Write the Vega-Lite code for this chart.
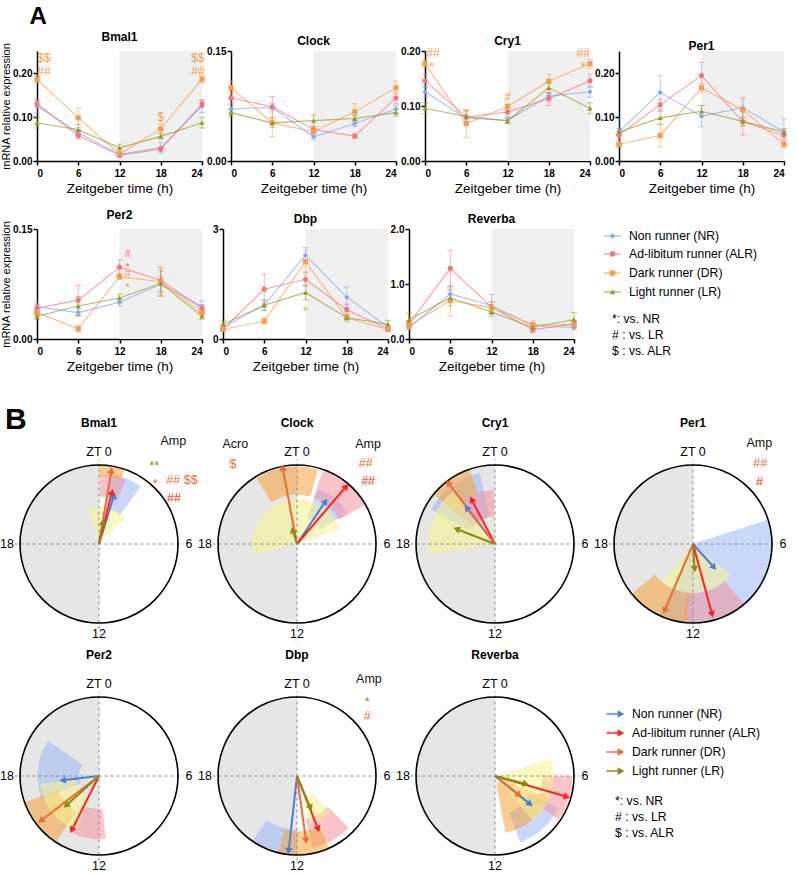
{
"$schema":"https://vega.github.io/schema/vega-lite/v6.json",
"padding":{"left":0,"top":5,"right":5,"bottom":0},
"background":"white",
"config":{
 "font":"Liberation Sans",
 "view":{"stroke":null},
 "axis":{"grid":false,"labelOverlap":false,"domainColor":"#000","domainWidth":1.5,"tickColor":"#000","tickWidth":1.5,"tickSize":4,"labelFontWeight":"bold","labelFontSize":10,"labelColor":"#000","titleFontWeight":"normal","titleColor":"#000","titleFontSize":13.5},
 "axisY":{"titleFontSize":11,"labelPadding":1,"titlePadding":1,"labelOverlap":false,"labelFlush":false},
 "axisX":{"labelPadding":3,"titlePadding":3},
 "title":{"fontSize":12,"fontWeight":"bold","color":"#000","offset":-2},
 "text":{"font":"Liberation Sans","color":"#000"}
},
"datasets":{
 "night":[{"s":12,"e":24}],
 "dark":[{"from":12,"to":24,"r":1}],
 "ring":[{"from":0,"to":24,"r":1}],
 "cross":[{"xa":-1.07,"xb":1.07,"ya":0,"yb":0},{"xa":0,"xb":0,"ya":-1.07,"yb":1.07}],
 "hours":[{"lab":"ZT 0","x":0,"y":1.165},{"lab":"6","x":1.14,"y":0},{"lab":"12","x":0,"y":-1.14},{"lab":"18","x":-1.165,"y":0}],
 "legA":[{"g":"NR","lab":"Non runner (NR)","p":0.38},{"g":"ALR","lab":"Ad-libitum runner (ALR)","p":1.35},{"g":"DR","lab":"Dark runner (DR)","p":2.37},{"g":"LR","lab":"Light runner (LR)","p":3.39}],
 "noteA":[{"lab":"*: vs. NR","p":4.85},{"lab":"# : vs. LR","p":5.71},{"lab":"$ : vs. ALR","p":6.57}],
 "legB":[{"g":"NR","lab":"Non runner (NR)","p":0},{"g":"ALR","lab":"Ad-libitum runner (ALR)","p":1},{"g":"DR","lab":"Dark runner (DR)","p":2},{"g":"LR","lab":"Light runner (LR)","p":3}],
 "noteB":[{"lab":"*: vs. NR","p":4.58},{"lab":"# : vs. LR","p":5.42},{"lab":"$ : vs. ALR","p":6.26}],
 "expr":[
  {"k":"Bmal1","g":"NR","t":0,"m":0.125,"lo":0.110,"hi":0.140},{"k":"Bmal1","g":"NR","t":6,"m":0.065,"lo":0.059,"hi":0.071},{"k":"Bmal1","g":"NR","t":12,"m":0.015,"lo":0.012,"hi":0.018},{"k":"Bmal1","g":"NR","t":18,"m":0.030,"lo":0.018,"hi":0.042},{"k":"Bmal1","g":"NR","t":24,"m":0.125,"lo":0.110,"hi":0.140},
  {"k":"Bmal1","g":"ALR","t":0,"m":0.130,"lo":0.122,"hi":0.138},{"k":"Bmal1","g":"ALR","t":6,"m":0.058,"lo":0.050,"hi":0.066},{"k":"Bmal1","g":"ALR","t":12,"m":0.013,"lo":0.010,"hi":0.016},{"k":"Bmal1","g":"ALR","t":18,"m":0.027,"lo":0.022,"hi":0.032},{"k":"Bmal1","g":"ALR","t":24,"m":0.130,"lo":0.122,"hi":0.138},
  {"k":"Bmal1","g":"DR","t":0,"m":0.186,"lo":0.178,"hi":0.194},{"k":"Bmal1","g":"DR","t":6,"m":0.098,"lo":0.076,"hi":0.120},{"k":"Bmal1","g":"DR","t":12,"m":0.016,"lo":0.013,"hi":0.019},{"k":"Bmal1","g":"DR","t":18,"m":0.073,"lo":0.063,"hi":0.083},{"k":"Bmal1","g":"DR","t":24,"m":0.186,"lo":0.178,"hi":0.194},
  {"k":"Bmal1","g":"LR","t":0,"m":0.087,"lo":0.075,"hi":0.099},{"k":"Bmal1","g":"LR","t":6,"m":0.071,"lo":0.059,"hi":0.083},{"k":"Bmal1","g":"LR","t":12,"m":0.030,"lo":0.022,"hi":0.038},{"k":"Bmal1","g":"LR","t":18,"m":0.056,"lo":0.050,"hi":0.062},{"k":"Bmal1","g":"LR","t":24,"m":0.087,"lo":0.075,"hi":0.099},
  {"k":"Clock","g":"NR","t":0,"m":0.071,"lo":0.066,"hi":0.076},{"k":"Clock","g":"NR","t":6,"m":0.073,"lo":0.067,"hi":0.079},{"k":"Clock","g":"NR","t":12,"m":0.033,"lo":0.029,"hi":0.037},{"k":"Clock","g":"NR","t":18,"m":0.051,"lo":0.047,"hi":0.055},{"k":"Clock","g":"NR","t":24,"m":0.071,"lo":0.066,"hi":0.076},
  {"k":"Clock","g":"ALR","t":0,"m":0.086,"lo":0.078,"hi":0.094},{"k":"Clock","g":"ALR","t":6,"m":0.074,"lo":0.060,"hi":0.088},{"k":"Clock","g":"ALR","t":12,"m":0.043,"lo":0.039,"hi":0.047},{"k":"Clock","g":"ALR","t":18,"m":0.034,"lo":0.031,"hi":0.037},{"k":"Clock","g":"ALR","t":24,"m":0.086,"lo":0.078,"hi":0.094},
  {"k":"Clock","g":"DR","t":0,"m":0.100,"lo":0.091,"hi":0.109},{"k":"Clock","g":"DR","t":6,"m":0.052,"lo":0.033,"hi":0.071},{"k":"Clock","g":"DR","t":12,"m":0.040,"lo":0.037,"hi":0.043},{"k":"Clock","g":"DR","t":18,"m":0.067,"lo":0.056,"hi":0.078},{"k":"Clock","g":"DR","t":24,"m":0.100,"lo":0.091,"hi":0.109},
  {"k":"Clock","g":"LR","t":0,"m":0.066,"lo":0.061,"hi":0.071},{"k":"Clock","g":"LR","t":6,"m":0.052,"lo":0.046,"hi":0.058},{"k":"Clock","g":"LR","t":12,"m":0.055,"lo":0.047,"hi":0.063},{"k":"Clock","g":"LR","t":18,"m":0.058,"lo":0.054,"hi":0.062},{"k":"Clock","g":"LR","t":24,"m":0.066,"lo":0.061,"hi":0.071},
  {"k":"Cry1","g":"NR","t":0,"m":0.126,"lo":0.116,"hi":0.136},{"k":"Cry1","g":"NR","t":6,"m":0.078,"lo":0.072,"hi":0.084},{"k":"Cry1","g":"NR","t":12,"m":0.074,"lo":0.069,"hi":0.079},{"k":"Cry1","g":"NR","t":18,"m":0.118,"lo":0.112,"hi":0.124},{"k":"Cry1","g":"NR","t":24,"m":0.126,"lo":0.116,"hi":0.136},
  {"k":"Cry1","g":"ALR","t":0,"m":0.146,"lo":0.134,"hi":0.158},{"k":"Cry1","g":"ALR","t":6,"m":0.080,"lo":0.068,"hi":0.092},{"k":"Cry1","g":"ALR","t":12,"m":0.089,"lo":0.081,"hi":0.097},{"k":"Cry1","g":"ALR","t":18,"m":0.113,"lo":0.101,"hi":0.125},{"k":"Cry1","g":"ALR","t":24,"m":0.146,"lo":0.134,"hi":0.158},
  {"k":"Cry1","g":"DR","t":0,"m":0.177,"lo":0.169,"hi":0.185},{"k":"Cry1","g":"DR","t":6,"m":0.068,"lo":0.043,"hi":0.093},{"k":"Cry1","g":"DR","t":12,"m":0.099,"lo":0.094,"hi":0.104},{"k":"Cry1","g":"DR","t":18,"m":0.145,"lo":0.132,"hi":0.158},{"k":"Cry1","g":"DR","t":24,"m":0.177,"lo":0.169,"hi":0.185},
  {"k":"Cry1","g":"LR","t":0,"m":0.096,"lo":0.086,"hi":0.106},{"k":"Cry1","g":"LR","t":6,"m":0.081,"lo":0.071,"hi":0.091},{"k":"Cry1","g":"LR","t":12,"m":0.073,"lo":0.068,"hi":0.078},{"k":"Cry1","g":"LR","t":18,"m":0.133,"lo":0.123,"hi":0.143},{"k":"Cry1","g":"LR","t":24,"m":0.096,"lo":0.086,"hi":0.106},
  {"k":"Per1","g":"NR","t":0,"m":0.066,"lo":0.036,"hi":0.096},{"k":"Per1","g":"NR","t":6,"m":0.156,"lo":0.118,"hi":0.194},{"k":"Per1","g":"NR","t":12,"m":0.102,"lo":0.078,"hi":0.126},{"k":"Per1","g":"NR","t":18,"m":0.121,"lo":0.097,"hi":0.145},{"k":"Per1","g":"NR","t":24,"m":0.066,"lo":0.036,"hi":0.096},
  {"k":"Per1","g":"ALR","t":0,"m":0.059,"lo":0.049,"hi":0.069},{"k":"Per1","g":"ALR","t":6,"m":0.128,"lo":0.116,"hi":0.140},{"k":"Per1","g":"ALR","t":12,"m":0.194,"lo":0.164,"hi":0.224},{"k":"Per1","g":"ALR","t":18,"m":0.089,"lo":0.059,"hi":0.119},{"k":"Per1","g":"ALR","t":24,"m":0.059,"lo":0.049,"hi":0.069},
  {"k":"Per1","g":"DR","t":0,"m":0.038,"lo":0.031,"hi":0.045},{"k":"Per1","g":"DR","t":6,"m":0.058,"lo":0.032,"hi":0.084},{"k":"Per1","g":"DR","t":12,"m":0.166,"lo":0.156,"hi":0.176},{"k":"Per1","g":"DR","t":18,"m":0.116,"lo":0.091,"hi":0.141},{"k":"Per1","g":"DR","t":24,"m":0.038,"lo":0.031,"hi":0.045},
  {"k":"Per1","g":"LR","t":0,"m":0.066,"lo":0.058,"hi":0.074},{"k":"Per1","g":"LR","t":6,"m":0.098,"lo":0.083,"hi":0.113},{"k":"Per1","g":"LR","t":12,"m":0.113,"lo":0.100,"hi":0.126},{"k":"Per1","g":"LR","t":18,"m":0.090,"lo":0.080,"hi":0.100},{"k":"Per1","g":"LR","t":24,"m":0.066,"lo":0.058,"hi":0.074},
  {"k":"Per2","g":"NR","t":0,"m":0.044,"lo":0.036,"hi":0.052},{"k":"Per2","g":"NR","t":6,"m":0.036,"lo":0.031,"hi":0.041},{"k":"Per2","g":"NR","t":12,"m":0.050,"lo":0.045,"hi":0.055},{"k":"Per2","g":"NR","t":18,"m":0.075,"lo":0.065,"hi":0.085},{"k":"Per2","g":"NR","t":24,"m":0.044,"lo":0.036,"hi":0.052},
  {"k":"Per2","g":"ALR","t":0,"m":0.042,"lo":0.037,"hi":0.047},{"k":"Per2","g":"ALR","t":6,"m":0.053,"lo":0.033,"hi":0.073},{"k":"Per2","g":"ALR","t":12,"m":0.098,"lo":0.088,"hi":0.108},{"k":"Per2","g":"ALR","t":18,"m":0.080,"lo":0.063,"hi":0.097},{"k":"Per2","g":"ALR","t":24,"m":0.042,"lo":0.037,"hi":0.047},
  {"k":"Per2","g":"DR","t":0,"m":0.036,"lo":0.032,"hi":0.040},{"k":"Per2","g":"DR","t":6,"m":0.014,"lo":0.010,"hi":0.018},{"k":"Per2","g":"DR","t":12,"m":0.085,"lo":0.081,"hi":0.089},{"k":"Per2","g":"DR","t":18,"m":0.078,"lo":0.058,"hi":0.098},{"k":"Per2","g":"DR","t":24,"m":0.036,"lo":0.032,"hi":0.040},
  {"k":"Per2","g":"LR","t":0,"m":0.031,"lo":0.027,"hi":0.035},{"k":"Per2","g":"LR","t":6,"m":0.045,"lo":0.032,"hi":0.058},{"k":"Per2","g":"LR","t":12,"m":0.056,"lo":0.051,"hi":0.061},{"k":"Per2","g":"LR","t":18,"m":0.076,"lo":0.059,"hi":0.093},{"k":"Per2","g":"LR","t":24,"m":0.031,"lo":0.027,"hi":0.035},
  {"k":"Dbp","g":"NR","t":0,"m":0.32,"lo":0.27,"hi":0.37},{"k":"Dbp","g":"NR","t":6,"m":0.92,"lo":0.80,"hi":1.04},{"k":"Dbp","g":"NR","t":12,"m":2.29,"lo":2.09,"hi":2.49},{"k":"Dbp","g":"NR","t":18,"m":1.14,"lo":0.86,"hi":1.42},{"k":"Dbp","g":"NR","t":24,"m":0.32,"lo":0.27,"hi":0.37},
  {"k":"Dbp","g":"ALR","t":0,"m":0.27,"lo":0.22,"hi":0.32},{"k":"Dbp","g":"ALR","t":6,"m":1.36,"lo":0.96,"hi":1.76},{"k":"Dbp","g":"ALR","t":12,"m":1.63,"lo":1.43,"hi":1.83},{"k":"Dbp","g":"ALR","t":18,"m":0.80,"lo":0.65,"hi":0.95},{"k":"Dbp","g":"ALR","t":24,"m":0.27,"lo":0.22,"hi":0.32},
  {"k":"Dbp","g":"DR","t":0,"m":0.26,"lo":0.21,"hi":0.31},{"k":"Dbp","g":"DR","t":6,"m":0.49,"lo":0.41,"hi":0.57},{"k":"Dbp","g":"DR","t":12,"m":2.11,"lo":1.81,"hi":2.41},{"k":"Dbp","g":"DR","t":18,"m":0.58,"lo":0.53,"hi":0.63},{"k":"Dbp","g":"DR","t":24,"m":0.26,"lo":0.21,"hi":0.31},
  {"k":"Dbp","g":"LR","t":0,"m":0.41,"lo":0.31,"hi":0.51},{"k":"Dbp","g":"LR","t":6,"m":0.92,"lo":0.77,"hi":1.07},{"k":"Dbp","g":"LR","t":12,"m":1.27,"lo":1.07,"hi":1.47},{"k":"Dbp","g":"LR","t":18,"m":0.58,"lo":0.48,"hi":0.68},{"k":"Dbp","g":"LR","t":24,"m":0.41,"lo":0.31,"hi":0.51},
  {"k":"Reverba","g":"NR","t":0,"m":0.21,"lo":0.17,"hi":0.25},{"k":"Reverba","g":"NR","t":6,"m":0.82,"lo":0.69,"hi":0.95},{"k":"Reverba","g":"NR","t":12,"m":0.61,"lo":0.41,"hi":0.81},{"k":"Reverba","g":"NR","t":18,"m":0.245,"lo":0.195,"hi":0.295},{"k":"Reverba","g":"NR","t":24,"m":0.21,"lo":0.17,"hi":0.25},
  {"k":"Reverba","g":"ALR","t":0,"m":0.275,"lo":0.215,"hi":0.335},{"k":"Reverba","g":"ALR","t":6,"m":1.285,"lo":0.955,"hi":1.615},{"k":"Reverba","g":"ALR","t":12,"m":0.58,"lo":0.48,"hi":0.68},{"k":"Reverba","g":"ALR","t":18,"m":0.17,"lo":0.12,"hi":0.22},{"k":"Reverba","g":"ALR","t":24,"m":0.27,"lo":0.21,"hi":0.33},
  {"k":"Reverba","g":"DR","t":0,"m":0.245,"lo":0.185,"hi":0.305},{"k":"Reverba","g":"DR","t":6,"m":0.70,"lo":0.42,"hi":0.98},{"k":"Reverba","g":"DR","t":12,"m":0.57,"lo":0.47,"hi":0.67},{"k":"Reverba","g":"DR","t":18,"m":0.26,"lo":0.19,"hi":0.33},{"k":"Reverba","g":"DR","t":24,"m":0.26,"lo":0.20,"hi":0.32},
  {"k":"Reverba","g":"LR","t":0,"m":0.35,"lo":0.23,"hi":0.47},{"k":"Reverba","g":"LR","t":6,"m":0.75,"lo":0.60,"hi":0.90},{"k":"Reverba","g":"LR","t":12,"m":0.49,"lo":0.45,"hi":0.53},{"k":"Reverba","g":"LR","t":18,"m":0.215,"lo":0.185,"hi":0.245},{"k":"Reverba","g":"LR","t":24,"m":0.355,"lo":0.225,"hi":0.485}
 ],
 "annA":[
  {"k":"Bmal1","g":"DR","t":1.0,"v":0.234,"s":"$$"},{"k":"Bmal1","g":"DR","t":1.0,"v":0.205,"s":"##"},
  {"k":"Bmal1","g":"DR","t":23.4,"v":0.234,"s":"$$"},{"k":"Bmal1","g":"DR","t":23.4,"v":0.205,"s":"##"},
  {"k":"Bmal1","g":"DR","t":18,"v":0.099,"s":"$"},
  {"k":"Cry1","g":"DR","t":1.2,"v":0.196,"s":"##"},{"k":"Cry1","g":"DR","t":1.0,"v":0.171,"s":"*"},
  {"k":"Cry1","g":"DR","t":23.0,"v":0.196,"s":"##"},{"k":"Cry1","g":"DR","t":23.0,"v":0.171,"s":"*"},
  {"k":"Cry1","g":"DR","t":12,"v":0.116,"s":"#"},
  {"k":"Per2","g":"ALR","t":13.2,"v":0.116,"s":"#"},{"k":"Per2","g":"ALR","t":13.2,"v":0.097,"s":"*"},
  {"k":"Per2","g":"DR","t":13.2,"v":0.089,"s":"#"},{"k":"Per2","g":"DR","t":13.2,"v":0.070,"s":"*"},
  {"k":"Dbp","g":"LR","t":12,"v":0.77,"s":"*"}
 ],
 "pol":[
  {"k":"Bmal1","g":"NR","h":1.15,"ex":0.19,"ey":0.614,"a1":0.6,"a2":2.4,"r1":0.45,"r2":0.9},
  {"k":"Bmal1","g":"ALR","h":0.94,"ex":0.165,"ey":0.657,"a1":0.05,"a2":1.5,"r1":0.6,"r2":0.88},
  {"k":"Bmal1","g":"DR","h":0.64,"ex":0.157,"ey":0.93,"a1":0.0,"a2":1.25,"r1":0.86,"r2":1.0},
  {"k":"Bmal1","g":"LR","h":0.65,"ex":0.047,"ey":0.275,"a1":-1.15,"a2":3.0,"r1":0.1,"r2":0.47},
  {"k":"Clock","g":"NR","h":2.25,"ex":0.36,"ey":0.54,"a1":1.4,"a2":3.9,"r1":0.35,"r2":0.75},
  {"k":"Clock","g":"ALR","h":2.7,"ex":0.623,"ey":0.729,"a1":1.3,"a2":4.0,"r1":0.62,"r2":1.0},
  {"k":"Clock","g":"DR","h":23.3,"ex":-0.182,"ey":0.966,"a1":-2.1,"a2":1.05,"r1":0.62,"r2":0.98},
  {"k":"Clock","g":"LR","h":22.85,"ex":-0.055,"ey":0.178,"a1":-6.9,"a2":4.7,"r1":0.05,"r2":0.57},
  {"k":"Cry1","g":"NR","h":21.47,"ex":-0.36,"ey":0.458,"a1":19.9,"a2":23.2,"r1":0.35,"r2":0.92},
  {"k":"Cry1","g":"ALR","h":22.15,"ex":-0.297,"ey":0.564,"a1":20.6,"a2":23.9,"r1":0.35,"r2":0.68},
  {"k":"Cry1","g":"DR","h":21.5,"ex":-0.593,"ey":0.775,"a1":20.6,"a2":22.75,"r1":0.68,"r2":1.0},
  {"k":"Cry1","g":"LR","h":19.4,"ex":-0.487,"ey":0.19,"a1":17.4,"a2":21.5,"r1":0.12,"r2":0.85},
  {"k":"Per1","g":"NR","h":9.2,"ex":0.267,"ey":-0.297,"a1":4.8,"a2":13.7,"r1":0.02,"r2":1.0},
  {"k":"Per1","g":"ALR","h":11.0,"ex":0.242,"ey":-0.89,"a1":9.3,"a2":12.5,"r1":0.62,"r2":1.0},
  {"k":"Per1","g":"DR","h":13.53,"ex":-0.36,"ey":-0.847,"a1":12.3,"a2":15.4,"r1":0.62,"r2":1.0},
  {"k":"Per1","g":"LR","h":11.76,"ex":0.02,"ey":-0.318,"a1":8.6,"a2":14.6,"r1":0.05,"r2":0.62},
  {"k":"Per2","g":"NR","h":17.5,"ex":-0.46,"ey":-0.055,"a1":16.5,"a2":20.3,"r1":0.25,"r2":0.78},
  {"k":"Per2","g":"ALR","h":13.8,"ex":-0.345,"ey":-0.685,"a1":11.6,"a2":13.7,"r1":0.42,"r2":0.8},
  {"k":"Per2","g":"DR","h":15.5,"ex":-0.736,"ey":-0.566,"a1":14.2,"a2":16.7,"r1":0.55,"r2":1.0},
  {"k":"Per2","g":"LR","h":15.2,"ex":-0.417,"ey":-0.374,"a1":13.5,"a2":17.5,"r1":0.3,"r2":0.75},
  {"k":"Dbp","g":"NR","h":12.4,"ex":-0.106,"ey":-0.949,"a1":12.0,"a2":14.3,"r1":0.68,"r2":1.0},
  {"k":"Dbp","g":"ALR","h":10.55,"ex":0.268,"ey":-0.672,"a1":9.0,"a2":11.2,"r1":0.55,"r2":0.93},
  {"k":"Dbp","g":"DR","h":11.47,"ex":0.115,"ey":-0.82,"a1":10.4,"a2":12.9,"r1":0.7,"r2":1.0},
  {"k":"Dbp","g":"LR","h":10.48,"ex":0.17,"ey":-0.404,"a1":9.2,"a2":11.0,"r1":0.3,"r2":0.62},
  {"k":"Reverba","g":"NR","h":8.6,"ex":0.445,"ey":-0.356,"a1":7.8,"a2":10.6,"r1":0.5,"r2":0.9},
  {"k":"Reverba","g":"ALR","h":7.07,"ex":0.91,"ey":-0.263,"a1":6.0,"a2":8.3,"r1":0.6,"r2":0.98},
  {"k":"Reverba","g":"DR","h":8.5,"ex":0.305,"ey":-0.24,"a1":7.5,"a2":11.3,"r1":0.1,"r2":0.73},
  {"k":"Reverba","g":"LR","h":6.97,"ex":0.39,"ey":-0.10,"a1":4.9,"a2":9.3,"r1":0.1,"r2":0.74}
 ],
 "annB":[
  {"k":"Bmal1","g":"txt","x":0.94,"y":1.30,"s":"Amp"},{"k":"Bmal1","g":"LR","x":0.70,"y":0.99,"s":"**"},{"k":"Bmal1","g":"DR","x":0.71,"y":0.76,"s":"*"},{"k":"Bmal1","g":"DR","x":1.05,"y":0.81,"s":"## $$"},{"k":"Bmal1","g":"ALR","x":0.95,"y":0.58,"s":"##"},
  {"k":"Clock","g":"txt","x":-0.78,"y":1.27,"s":"Acro"},{"k":"Clock","g":"DR","x":-0.81,"y":1.01,"s":"$"},{"k":"Clock","g":"txt","x":0.9,"y":1.27,"s":"Amp"},{"k":"Clock","g":"DR","x":0.87,"y":1.03,"s":"##"},{"k":"Clock","g":"ALR","x":0.9,"y":0.80,"s":"##"},
  {"k":"Per1","g":"txt","x":0.84,"y":1.28,"s":"Amp"},{"k":"Per1","g":"DR","x":0.85,"y":1.03,"s":"##"},{"k":"Per1","g":"ALR","x":0.84,"y":0.78,"s":"#"},
  {"k":"Dbp","g":"txt","x":0.91,"y":1.23,"s":"Amp"},{"k":"Dbp","g":"LR","x":0.89,"y":0.94,"s":"*"},{"k":"Dbp","g":"DR","x":0.89,"y":0.76,"s":"#"}
 ]
},
"bounds":"full",
"spacing":31,
"resolve":{"scale":{"color":"independent"}},
"vconcat":[
{"title":{"text":"A","anchor":"start","fontSize":24,"fontWeight":"bold","dx":29,"offset":2},
 "bounds":"full","spacing":14,
 "vconcat":[
 {"bounds":"flush","spacing":29,"hconcat":[
  {"width":165,"height":110,"title":{"text":"Bmal1"},"layer":[
   {"data":{"name":"night"},"mark":{"type":"rect","color":"#f0f0f0"},"encoding":{"x":{"field":"s","type":"quantitative","scale":{"domain":[0,24],"nice":false,"zero":false},"axis":{"values":[0,6,12,18,24],"title":"Zeitgeber time (h)"}},"x2":{"field":"e"}}},
   {"data":{"name":"expr"},"transform":[{"filter":"datum.k=='Bmal1'"}],"mark":{"type":"rule","opacity":0.55},"encoding":{"x":{"field":"t","type":"quantitative"},"y":{"field":"lo","type":"quantitative","scale":{"domain":[0,0.25],"nice":false},"axis":{"values":[0,0.05,0.1,0.15,0.2,0.25],"tickCount":5,"format":".2f","labelOverlap":false,"labelFlush":false,"title":"mRNA relative expression"}},"y2":{"field":"hi"},"color":{"field":"g","type":"nominal","scale":{"domain":["NR","ALR","DR","LR"],"range":["#7ea7f5","#f8727c","#f99b4b","#9a9a1c"]},"legend":null}}},
   {"data":{"name":"expr"},"transform":[{"filter":"datum.k=='Bmal1'"}],"mark":{"type":"tick","orient":"horizontal","size":6,"thickness":1,"opacity":0.55},"encoding":{"x":{"field":"t","type":"quantitative"},"y":{"field":"lo","type":"quantitative","axis":{"values":[0,0.05,0.1,0.15,0.2,0.25],"tickCount":5,"format":".2f","labelOverlap":false,"labelFlush":false,"title":"mRNA relative expression"}},"color":{"field":"g","type":"nominal","legend":null}}},
   {"data":{"name":"expr"},"transform":[{"filter":"datum.k=='Bmal1'"}],"mark":{"type":"tick","orient":"horizontal","size":6,"thickness":1,"opacity":0.55},"encoding":{"x":{"field":"t","type":"quantitative"},"y":{"field":"hi","type":"quantitative","axis":{"values":[0,0.05,0.1,0.15,0.2,0.25],"tickCount":5,"format":".2f","labelOverlap":false,"labelFlush":false,"title":"mRNA relative expression"}},"color":{"field":"g","type":"nominal","legend":null}}},
   {"data":{"name":"expr"},"transform":[{"filter":"datum.k=='Bmal1'"}],"mark":{"type":"line","strokeWidth":1.1,"opacity":0.7},"encoding":{"x":{"field":"t","type":"quantitative"},"y":{"field":"m","type":"quantitative","axis":{"values":[0,0.05,0.1,0.15,0.2,0.25],"tickCount":5,"format":".2f","labelOverlap":false,"labelFlush":false,"title":"mRNA relative expression"}},"color":{"field":"g","type":"nominal","legend":null}}},
   {"data":{"name":"expr"},"transform":[{"filter":"datum.k=='Bmal1'"}],"mark":{"type":"point","filled":true,"size":26,"opacity":1},"encoding":{"x":{"field":"t","type":"quantitative"},"y":{"field":"m","type":"quantitative","axis":{"values":[0,0.05,0.1,0.15,0.2,0.25],"tickCount":5,"format":".2f","labelOverlap":false,"labelFlush":false,"title":"mRNA relative expression"}},"color":{"field":"g","type":"nominal","legend":null},"shape":{"field":"g","type":"nominal","scale":{"domain":["NR","ALR","DR","LR"],"range":["diamond","circle","square","triangle-up"]},"legend":null}}},
   {"data":{"name":"annA"},"transform":[{"filter":"datum.k=='Bmal1'"}],"mark":{"type":"text","fontSize":12},"encoding":{"x":{"field":"t","type":"quantitative"},"y":{"field":"v","type":"quantitative","axis":{"values":[0,0.05,0.1,0.15,0.2,0.25],"tickCount":5,"format":".2f","labelOverlap":false,"labelFlush":false,"title":"mRNA relative expression"}},"text":{"field":"s"},"color":{"field":"g","type":"nominal","legend":null}}}
  ]},
  {"width":165,"height":110,"title":{"text":"Clock"},"layer":[
   {"data":{"name":"night"},"mark":{"type":"rect","color":"#f0f0f0"},"encoding":{"x":{"field":"s","type":"quantitative","scale":{"domain":[0,24],"nice":false,"zero":false},"axis":{"values":[0,6,12,18,24],"title":"Zeitgeber time (h)"}},"x2":{"field":"e"}}},
   {"data":{"name":"expr"},"transform":[{"filter":"datum.k=='Clock'"}],"mark":{"type":"rule","opacity":0.55},"encoding":{"x":{"field":"t","type":"quantitative"},"y":{"field":"lo","type":"quantitative","scale":{"domain":[0,0.15],"nice":false},"axis":{"values":[0,0.05,0.1,0.15],"tickCount":3,"format":".2f","labelOverlap":false,"labelFlush":false,"title":null}},"y2":{"field":"hi"},"color":{"field":"g","type":"nominal","scale":{"domain":["NR","ALR","DR","LR"],"range":["#7ea7f5","#f8727c","#f99b4b","#9a9a1c"]},"legend":null}}},
   {"data":{"name":"expr"},"transform":[{"filter":"datum.k=='Clock'"}],"mark":{"type":"tick","orient":"horizontal","size":6,"thickness":1,"opacity":0.55},"encoding":{"x":{"field":"t","type":"quantitative"},"y":{"field":"lo","type":"quantitative","axis":{"values":[0,0.05,0.1,0.15],"tickCount":3,"format":".2f","labelOverlap":false,"labelFlush":false,"title":null}},"color":{"field":"g","type":"nominal","legend":null}}},
   {"data":{"name":"expr"},"transform":[{"filter":"datum.k=='Clock'"}],"mark":{"type":"tick","orient":"horizontal","size":6,"thickness":1,"opacity":0.55},"encoding":{"x":{"field":"t","type":"quantitative"},"y":{"field":"hi","type":"quantitative","axis":{"values":[0,0.05,0.1,0.15],"tickCount":3,"format":".2f","labelOverlap":false,"labelFlush":false,"title":null}},"color":{"field":"g","type":"nominal","legend":null}}},
   {"data":{"name":"expr"},"transform":[{"filter":"datum.k=='Clock'"}],"mark":{"type":"line","strokeWidth":1.1,"opacity":0.7},"encoding":{"x":{"field":"t","type":"quantitative"},"y":{"field":"m","type":"quantitative","axis":{"values":[0,0.05,0.1,0.15],"tickCount":3,"format":".2f","labelOverlap":false,"labelFlush":false,"title":null}},"color":{"field":"g","type":"nominal","legend":null}}},
   {"data":{"name":"expr"},"transform":[{"filter":"datum.k=='Clock'"}],"mark":{"type":"point","filled":true,"size":26,"opacity":1},"encoding":{"x":{"field":"t","type":"quantitative"},"y":{"field":"m","type":"quantitative","axis":{"values":[0,0.05,0.1,0.15],"tickCount":3,"format":".2f","labelOverlap":false,"labelFlush":false,"title":null}},"color":{"field":"g","type":"nominal","legend":null},"shape":{"field":"g","type":"nominal","scale":{"domain":["NR","ALR","DR","LR"],"range":["diamond","circle","square","triangle-up"]},"legend":null}}}
  ]},
  {"width":165,"height":110,"title":{"text":"Cry1"},"layer":[
   {"data":{"name":"night"},"mark":{"type":"rect","color":"#f0f0f0"},"encoding":{"x":{"field":"s","type":"quantitative","scale":{"domain":[0,24],"nice":false,"zero":false},"axis":{"values":[0,6,12,18,24],"title":"Zeitgeber time (h)"}},"x2":{"field":"e"}}},
   {"data":{"name":"expr"},"transform":[{"filter":"datum.k=='Cry1'"}],"mark":{"type":"rule","opacity":0.55},"encoding":{"x":{"field":"t","type":"quantitative"},"y":{"field":"lo","type":"quantitative","scale":{"domain":[0,0.2],"nice":false},"axis":{"values":[0,0.05,0.1,0.15,0.2],"tickCount":4,"format":".2f","labelOverlap":false,"labelFlush":false,"title":null}},"y2":{"field":"hi"},"color":{"field":"g","type":"nominal","scale":{"domain":["NR","ALR","DR","LR"],"range":["#7ea7f5","#f8727c","#f99b4b","#9a9a1c"]},"legend":null}}},
   {"data":{"name":"expr"},"transform":[{"filter":"datum.k=='Cry1'"}],"mark":{"type":"tick","orient":"horizontal","size":6,"thickness":1,"opacity":0.55},"encoding":{"x":{"field":"t","type":"quantitative"},"y":{"field":"lo","type":"quantitative","axis":{"values":[0,0.05,0.1,0.15,0.2],"tickCount":4,"format":".2f","labelOverlap":false,"labelFlush":false,"title":null}},"color":{"field":"g","type":"nominal","legend":null}}},
   {"data":{"name":"expr"},"transform":[{"filter":"datum.k=='Cry1'"}],"mark":{"type":"tick","orient":"horizontal","size":6,"thickness":1,"opacity":0.55},"encoding":{"x":{"field":"t","type":"quantitative"},"y":{"field":"hi","type":"quantitative","axis":{"values":[0,0.05,0.1,0.15,0.2],"tickCount":4,"format":".2f","labelOverlap":false,"labelFlush":false,"title":null}},"color":{"field":"g","type":"nominal","legend":null}}},
   {"data":{"name":"expr"},"transform":[{"filter":"datum.k=='Cry1'"}],"mark":{"type":"line","strokeWidth":1.1,"opacity":0.7},"encoding":{"x":{"field":"t","type":"quantitative"},"y":{"field":"m","type":"quantitative","axis":{"values":[0,0.05,0.1,0.15,0.2],"tickCount":4,"format":".2f","labelOverlap":false,"labelFlush":false,"title":null}},"color":{"field":"g","type":"nominal","legend":null}}},
   {"data":{"name":"expr"},"transform":[{"filter":"datum.k=='Cry1'"}],"mark":{"type":"point","filled":true,"size":26,"opacity":1},"encoding":{"x":{"field":"t","type":"quantitative"},"y":{"field":"m","type":"quantitative","axis":{"values":[0,0.05,0.1,0.15,0.2],"tickCount":4,"format":".2f","labelOverlap":false,"labelFlush":false,"title":null}},"color":{"field":"g","type":"nominal","legend":null},"shape":{"field":"g","type":"nominal","scale":{"domain":["NR","ALR","DR","LR"],"range":["diamond","circle","square","triangle-up"]},"legend":null}}},
   {"data":{"name":"annA"},"transform":[{"filter":"datum.k=='Cry1'"}],"mark":{"type":"text","fontSize":12},"encoding":{"x":{"field":"t","type":"quantitative"},"y":{"field":"v","type":"quantitative","axis":{"values":[0,0.05,0.1,0.15,0.2],"tickCount":4,"format":".2f","labelOverlap":false,"labelFlush":false,"title":null}},"text":{"field":"s"},"color":{"field":"g","type":"nominal","legend":null}}}
  ]},
  {"width":165,"height":110,"title":{"text":"Per1"},"layer":[
   {"data":{"name":"night"},"mark":{"type":"rect","color":"#f0f0f0"},"encoding":{"x":{"field":"s","type":"quantitative","scale":{"domain":[0,24],"nice":false,"zero":false},"axis":{"values":[0,6,12,18,24],"title":"Zeitgeber time (h)"}},"x2":{"field":"e"}}},
   {"data":{"name":"expr"},"transform":[{"filter":"datum.k=='Per1'"}],"mark":{"type":"rule","opacity":0.55},"encoding":{"x":{"field":"t","type":"quantitative"},"y":{"field":"lo","type":"quantitative","scale":{"domain":[0,0.25],"nice":false},"axis":{"values":[0,0.05,0.1,0.15,0.2,0.25],"tickCount":5,"format":".2f","labelOverlap":false,"labelFlush":false,"title":null}},"y2":{"field":"hi"},"color":{"field":"g","type":"nominal","scale":{"domain":["NR","ALR","DR","LR"],"range":["#7ea7f5","#f8727c","#f99b4b","#9a9a1c"]},"legend":null}}},
   {"data":{"name":"expr"},"transform":[{"filter":"datum.k=='Per1'"}],"mark":{"type":"tick","orient":"horizontal","size":6,"thickness":1,"opacity":0.55},"encoding":{"x":{"field":"t","type":"quantitative"},"y":{"field":"lo","type":"quantitative","axis":{"values":[0,0.05,0.1,0.15,0.2,0.25],"tickCount":5,"format":".2f","labelOverlap":false,"labelFlush":false,"title":null}},"color":{"field":"g","type":"nominal","legend":null}}},
   {"data":{"name":"expr"},"transform":[{"filter":"datum.k=='Per1'"}],"mark":{"type":"tick","orient":"horizontal","size":6,"thickness":1,"opacity":0.55},"encoding":{"x":{"field":"t","type":"quantitative"},"y":{"field":"hi","type":"quantitative","axis":{"values":[0,0.05,0.1,0.15,0.2,0.25],"tickCount":5,"format":".2f","labelOverlap":false,"labelFlush":false,"title":null}},"color":{"field":"g","type":"nominal","legend":null}}},
   {"data":{"name":"expr"},"transform":[{"filter":"datum.k=='Per1'"}],"mark":{"type":"line","strokeWidth":1.1,"opacity":0.7},"encoding":{"x":{"field":"t","type":"quantitative"},"y":{"field":"m","type":"quantitative","axis":{"values":[0,0.05,0.1,0.15,0.2,0.25],"tickCount":5,"format":".2f","labelOverlap":false,"labelFlush":false,"title":null}},"color":{"field":"g","type":"nominal","legend":null}}},
   {"data":{"name":"expr"},"transform":[{"filter":"datum.k=='Per1'"}],"mark":{"type":"point","filled":true,"size":26,"opacity":1},"encoding":{"x":{"field":"t","type":"quantitative"},"y":{"field":"m","type":"quantitative","axis":{"values":[0,0.05,0.1,0.15,0.2,0.25],"tickCount":5,"format":".2f","labelOverlap":false,"labelFlush":false,"title":null}},"color":{"field":"g","type":"nominal","legend":null},"shape":{"field":"g","type":"nominal","scale":{"domain":["NR","ALR","DR","LR"],"range":["diamond","circle","square","triangle-up"]},"legend":null}}}
  ]}
 ]},
 {"bounds":"flush","spacing":21,"hconcat":[
  {"width":165,"height":110,"title":{"text":"Per2"},"layer":[
   {"data":{"name":"night"},"mark":{"type":"rect","color":"#f0f0f0"},"encoding":{"x":{"field":"s","type":"quantitative","scale":{"domain":[0,24],"nice":false,"zero":false},"axis":{"values":[0,6,12,18,24],"title":"Zeitgeber time (h)"}},"x2":{"field":"e"}}},
   {"data":{"name":"expr"},"transform":[{"filter":"datum.k=='Per2'"}],"mark":{"type":"rule","opacity":0.55},"encoding":{"x":{"field":"t","type":"quantitative"},"y":{"field":"lo","type":"quantitative","scale":{"domain":[0,0.15],"nice":false},"axis":{"values":[0,0.05,0.1,0.15],"tickCount":3,"format":".2f","labelOverlap":false,"labelFlush":false,"title":"mRNA relative expression"}},"y2":{"field":"hi"},"color":{"field":"g","type":"nominal","scale":{"domain":["NR","ALR","DR","LR"],"range":["#7ea7f5","#f8727c","#f99b4b","#9a9a1c"]},"legend":null}}},
   {"data":{"name":"expr"},"transform":[{"filter":"datum.k=='Per2'"}],"mark":{"type":"tick","orient":"horizontal","size":6,"thickness":1,"opacity":0.55},"encoding":{"x":{"field":"t","type":"quantitative"},"y":{"field":"lo","type":"quantitative","axis":{"values":[0,0.05,0.1,0.15],"tickCount":3,"format":".2f","labelOverlap":false,"labelFlush":false,"title":"mRNA relative expression"}},"color":{"field":"g","type":"nominal","legend":null}}},
   {"data":{"name":"expr"},"transform":[{"filter":"datum.k=='Per2'"}],"mark":{"type":"tick","orient":"horizontal","size":6,"thickness":1,"opacity":0.55},"encoding":{"x":{"field":"t","type":"quantitative"},"y":{"field":"hi","type":"quantitative","axis":{"values":[0,0.05,0.1,0.15],"tickCount":3,"format":".2f","labelOverlap":false,"labelFlush":false,"title":"mRNA relative expression"}},"color":{"field":"g","type":"nominal","legend":null}}},
   {"data":{"name":"expr"},"transform":[{"filter":"datum.k=='Per2'"}],"mark":{"type":"line","strokeWidth":1.1,"opacity":0.7},"encoding":{"x":{"field":"t","type":"quantitative"},"y":{"field":"m","type":"quantitative","axis":{"values":[0,0.05,0.1,0.15],"tickCount":3,"format":".2f","labelOverlap":false,"labelFlush":false,"title":"mRNA relative expression"}},"color":{"field":"g","type":"nominal","legend":null}}},
   {"data":{"name":"expr"},"transform":[{"filter":"datum.k=='Per2'"}],"mark":{"type":"point","filled":true,"size":26,"opacity":1},"encoding":{"x":{"field":"t","type":"quantitative"},"y":{"field":"m","type":"quantitative","axis":{"values":[0,0.05,0.1,0.15],"tickCount":3,"format":".2f","labelOverlap":false,"labelFlush":false,"title":"mRNA relative expression"}},"color":{"field":"g","type":"nominal","legend":null},"shape":{"field":"g","type":"nominal","scale":{"domain":["NR","ALR","DR","LR"],"range":["diamond","circle","square","triangle-up"]},"legend":null}}},
   {"data":{"name":"annA"},"transform":[{"filter":"datum.k=='Per2'"}],"mark":{"type":"text","fontSize":11},"encoding":{"x":{"field":"t","type":"quantitative"},"y":{"field":"v","type":"quantitative","axis":{"values":[0,0.05,0.1,0.15],"tickCount":3,"format":".2f","labelOverlap":false,"labelFlush":false,"title":"mRNA relative expression"}},"text":{"field":"s"},"color":{"field":"g","type":"nominal","legend":null}}}
  ]},
  {"width":165,"height":110,"title":{"text":"Dbp"},"layer":[
   {"data":{"name":"night"},"mark":{"type":"rect","color":"#f0f0f0"},"encoding":{"x":{"field":"s","type":"quantitative","scale":{"domain":[0,24],"nice":false,"zero":false},"axis":{"values":[0,6,12,18,24],"title":"Zeitgeber time (h)"}},"x2":{"field":"e"}}},
   {"data":{"name":"expr"},"transform":[{"filter":"datum.k=='Dbp'"}],"mark":{"type":"rule","opacity":0.55},"encoding":{"x":{"field":"t","type":"quantitative"},"y":{"field":"lo","type":"quantitative","scale":{"domain":[0,3],"nice":false},"axis":{"values":[0,1,2,3],"tickCount":3,"format":"d","labelOverlap":false,"labelFlush":false,"title":null}},"y2":{"field":"hi"},"color":{"field":"g","type":"nominal","scale":{"domain":["NR","ALR","DR","LR"],"range":["#7ea7f5","#f8727c","#f99b4b","#9a9a1c"]},"legend":null}}},
   {"data":{"name":"expr"},"transform":[{"filter":"datum.k=='Dbp'"}],"mark":{"type":"tick","orient":"horizontal","size":6,"thickness":1,"opacity":0.55},"encoding":{"x":{"field":"t","type":"quantitative"},"y":{"field":"lo","type":"quantitative","axis":{"values":[0,1,2,3],"tickCount":3,"format":"d","labelOverlap":false,"labelFlush":false,"title":null}},"color":{"field":"g","type":"nominal","legend":null}}},
   {"data":{"name":"expr"},"transform":[{"filter":"datum.k=='Dbp'"}],"mark":{"type":"tick","orient":"horizontal","size":6,"thickness":1,"opacity":0.55},"encoding":{"x":{"field":"t","type":"quantitative"},"y":{"field":"hi","type":"quantitative","axis":{"values":[0,1,2,3],"tickCount":3,"format":"d","labelOverlap":false,"labelFlush":false,"title":null}},"color":{"field":"g","type":"nominal","legend":null}}},
   {"data":{"name":"expr"},"transform":[{"filter":"datum.k=='Dbp'"}],"mark":{"type":"line","strokeWidth":1.1,"opacity":0.7},"encoding":{"x":{"field":"t","type":"quantitative"},"y":{"field":"m","type":"quantitative","axis":{"values":[0,1,2,3],"tickCount":3,"format":"d","labelOverlap":false,"labelFlush":false,"title":null}},"color":{"field":"g","type":"nominal","legend":null}}},
   {"data":{"name":"expr"},"transform":[{"filter":"datum.k=='Dbp'"}],"mark":{"type":"point","filled":true,"size":26,"opacity":1},"encoding":{"x":{"field":"t","type":"quantitative"},"y":{"field":"m","type":"quantitative","axis":{"values":[0,1,2,3],"tickCount":3,"format":"d","labelOverlap":false,"labelFlush":false,"title":null}},"color":{"field":"g","type":"nominal","legend":null},"shape":{"field":"g","type":"nominal","scale":{"domain":["NR","ALR","DR","LR"],"range":["diamond","circle","square","triangle-up"]},"legend":null}}},
   {"data":{"name":"annA"},"transform":[{"filter":"datum.k=='Dbp'"}],"mark":{"type":"text","fontSize":15,"color":"#c9c93a"},"encoding":{"x":{"field":"t","type":"quantitative"},"y":{"field":"v","type":"quantitative","axis":{"values":[0,1,2,3],"tickCount":3,"format":"d","labelOverlap":false,"labelFlush":false,"title":null}},"text":{"field":"s"}}}
  ]},
  {"width":165,"height":110,"title":{"text":"Reverba"},"layer":[
   {"data":{"name":"night"},"mark":{"type":"rect","color":"#f0f0f0"},"encoding":{"x":{"field":"s","type":"quantitative","scale":{"domain":[0,24],"nice":false,"zero":false},"axis":{"values":[0,6,12,18,24],"title":"Zeitgeber time (h)"}},"x2":{"field":"e"}}},
   {"data":{"name":"expr"},"transform":[{"filter":"datum.k=='Reverba'"}],"mark":{"type":"rule","opacity":0.55},"encoding":{"x":{"field":"t","type":"quantitative"},"y":{"field":"lo","type":"quantitative","scale":{"domain":[0,2],"nice":false},"axis":{"values":[0,0.5,1,1.5,2],"tickCount":4,"format":".1f","labelOverlap":false,"labelFlush":false,"title":null}},"y2":{"field":"hi"},"color":{"field":"g","type":"nominal","scale":{"domain":["NR","ALR","DR","LR"],"range":["#7ea7f5","#f8727c","#f99b4b","#9a9a1c"]},"legend":null}}},
   {"data":{"name":"expr"},"transform":[{"filter":"datum.k=='Reverba'"}],"mark":{"type":"tick","orient":"horizontal","size":6,"thickness":1,"opacity":0.55},"encoding":{"x":{"field":"t","type":"quantitative"},"y":{"field":"lo","type":"quantitative","axis":{"values":[0,0.5,1,1.5,2],"tickCount":4,"format":".1f","labelOverlap":false,"labelFlush":false,"title":null}},"color":{"field":"g","type":"nominal","legend":null}}},
   {"data":{"name":"expr"},"transform":[{"filter":"datum.k=='Reverba'"}],"mark":{"type":"tick","orient":"horizontal","size":6,"thickness":1,"opacity":0.55},"encoding":{"x":{"field":"t","type":"quantitative"},"y":{"field":"hi","type":"quantitative","axis":{"values":[0,0.5,1,1.5,2],"tickCount":4,"format":".1f","labelOverlap":false,"labelFlush":false,"title":null}},"color":{"field":"g","type":"nominal","legend":null}}},
   {"data":{"name":"expr"},"transform":[{"filter":"datum.k=='Reverba'"}],"mark":{"type":"line","strokeWidth":1.1,"opacity":0.7},"encoding":{"x":{"field":"t","type":"quantitative"},"y":{"field":"m","type":"quantitative","axis":{"values":[0,0.5,1,1.5,2],"tickCount":4,"format":".1f","labelOverlap":false,"labelFlush":false,"title":null}},"color":{"field":"g","type":"nominal","legend":null}}},
   {"data":{"name":"expr"},"transform":[{"filter":"datum.k=='Reverba'"}],"mark":{"type":"point","filled":true,"size":26,"opacity":1},"encoding":{"x":{"field":"t","type":"quantitative"},"y":{"field":"m","type":"quantitative","axis":{"values":[0,0.5,1,1.5,2],"tickCount":4,"format":".1f","labelOverlap":false,"labelFlush":false,"title":null}},"color":{"field":"g","type":"nominal","legend":null},"shape":{"field":"g","type":"nominal","scale":{"domain":["NR","ALR","DR","LR"],"range":["diamond","circle","square","triangle-up"]},"legend":null}}}
  ]},
  {"width":170,"height":130,"layer":[
   {"data":{"name":"legA"},"mark":{"type":"tick","orient":"horizontal","size":17,"thickness":1.2,"opacity":0.8},"encoding":{"x":{"datum":1.03,"type":"quantitative","scale":{"domain":[0,10],"nice":false,"zero":false},"axis":null},"y":{"field":"p","type":"quantitative","scale":{"domain":[0,7],"reverse":true,"nice":false,"zero":false},"axis":null},"color":{"field":"g","type":"nominal","scale":{"domain":["NR","ALR","DR","LR"],"range":["#7ea7f5","#f8727c","#f99b4b","#9a9a1c"]},"legend":null}}},
   {"data":{"name":"legA"},"mark":{"type":"point","filled":true,"size":30,"opacity":1},"encoding":{"x":{"datum":1.03,"type":"quantitative"},"y":{"field":"p","type":"quantitative"},"color":{"field":"g","type":"nominal","legend":null},"shape":{"field":"g","type":"nominal","scale":{"domain":["NR","ALR","DR","LR"],"range":["diamond","circle","square","triangle-up"]},"legend":null}}},
   {"data":{"name":"legA"},"mark":{"type":"text","align":"left","baseline":"middle","fontSize":12.2},"encoding":{"x":{"datum":2.0,"type":"quantitative"},"y":{"field":"p","type":"quantitative"},"text":{"field":"lab"}}},
   {"data":{"name":"noteA"},"mark":{"type":"text","align":"left","baseline":"middle","fontSize":12.2},"encoding":{"x":{"datum":1.0,"type":"quantitative"},"y":{"field":"p","type":"quantitative"},"text":{"field":"lab"}}}
  ]}
 ]}
 ]},
{"title":{"text":"B","anchor":"start","fontSize":30,"fontWeight":"bold","dx":5,"offset":-18},
 "bounds":"full","spacing":7,
 "vconcat":[
 {"bounds":"flush","spacing":74,"hconcat":[
  {"width":124,"height":124,"title":{"text":"Bmal1","offset":5},"layer":[
   {"data":{"name":"dark"},"mark":{"type":"arc","color":"#e6e6e6"},"encoding":{"theta":{"field":"from","type":"quantitative","scale":{"type":"linear","domain":[0,24],"zero":false,"nice":false}},"theta2":{"field":"to"},"radius":{"field":"r","type":"quantitative","scale":{"type":"linear","domain":[0,1],"range":[0,79],"zero":true,"nice":false}}}},
   {"data":{"name":"pol"},"transform":[{"filter":"datum.k=='Bmal1'"}],"mark":{"type":"arc","fillOpacity":0.55},"encoding":{"theta":{"field":"a1","type":"quantitative"},"theta2":{"field":"a2"},"radius":{"field":"r2","type":"quantitative"},"radius2":{"field":"r1"},"fill":{"field":"g","type":"nominal","scale":{"domain":["NR","ALR","DR","LR"],"range":["#9db7f5","#f3939c","#f5a23a","#f7f28c"]},"legend":null}}},
   {"data":{"name":"cross"},"mark":{"type":"rule","color":"#8c8c8c","strokeDash":[3,3],"strokeWidth":1},"encoding":{"x":{"field":"xa","type":"quantitative","scale":{"domain":[-0.78481,0.78481],"nice":false,"zero":false},"axis":null},"x2":{"field":"xb"},"y":{"field":"ya","type":"quantitative","scale":{"domain":[-0.78481,0.78481],"nice":false,"zero":false},"axis":null},"y2":{"field":"yb"}}},
   {"data":{"name":"ring"},"mark":{"type":"arc","fillOpacity":0,"stroke":"#000","strokeWidth":1.6},"encoding":{"theta":{"field":"from","type":"quantitative"},"theta2":{"field":"to"},"radius":{"field":"r","type":"quantitative"}}},
   {"data":{"name":"hours"},"mark":{"type":"text","fontSize":12.5,"align":"center","baseline":"middle"},"encoding":{"x":{"field":"x","type":"quantitative"},"y":{"field":"y","type":"quantitative"},"text":{"field":"lab"}}},
   {"data":{"name":"pol"},"transform":[{"filter":"datum.k=='Bmal1'"}],"mark":{"type":"rule","strokeWidth":2},"encoding":{"x":{"field":"ex","type":"quantitative"},"y":{"field":"ey","type":"quantitative"},"x2":{"datum":0},"y2":{"datum":0},"color":{"field":"g","type":"nominal","scale":{"domain":["NR","ALR","DR","LR","txt"],"range":["#4a7fd6","#ff2020","#ef6a33","#8a8a12","#111111"]},"legend":null}}},
   {"data":{"name":"pol"},"transform":[{"filter":"datum.k=='Bmal1'"}],"mark":{"type":"point","shape":"triangle-up","filled":true,"size":55,"opacity":1},"encoding":{"x":{"field":"ex","type":"quantitative"},"y":{"field":"ey","type":"quantitative"},"angle":{"field":"h","type":"quantitative","scale":{"domain":[0,24],"range":[0,360]},"legend":null},"color":{"field":"g","type":"nominal","legend":null}}},
   {"data":{"name":"annB"},"transform":[{"filter":"datum.k=='Bmal1'"}],"mark":{"type":"text","fontSize":12.5},"encoding":{"x":{"field":"x","type":"quantitative"},"y":{"field":"y","type":"quantitative"},"text":{"field":"s"},"color":{"field":"g","type":"nominal","legend":null}}}
  ]},
  {"width":124,"height":124,"title":{"text":"Clock","offset":8},"layer":[
   {"data":{"name":"dark"},"mark":{"type":"arc","color":"#e6e6e6"},"encoding":{"theta":{"field":"from","type":"quantitative","scale":{"type":"linear","domain":[0,24],"zero":false,"nice":false}},"theta2":{"field":"to"},"radius":{"field":"r","type":"quantitative","scale":{"type":"linear","domain":[0,1],"range":[0,79],"zero":true,"nice":false}}}},
   {"data":{"name":"pol"},"transform":[{"filter":"datum.k=='Clock'"}],"mark":{"type":"arc","fillOpacity":0.55},"encoding":{"theta":{"field":"a1","type":"quantitative"},"theta2":{"field":"a2"},"radius":{"field":"r2","type":"quantitative"},"radius2":{"field":"r1"},"fill":{"field":"g","type":"nominal","scale":{"domain":["NR","ALR","DR","LR"],"range":["#9db7f5","#f3939c","#f5a23a","#f7f28c"]},"legend":null}}},
   {"data":{"name":"cross"},"mark":{"type":"rule","color":"#8c8c8c","strokeDash":[3,3],"strokeWidth":1},"encoding":{"x":{"field":"xa","type":"quantitative","scale":{"domain":[-0.78481,0.78481],"nice":false,"zero":false},"axis":null},"x2":{"field":"xb"},"y":{"field":"ya","type":"quantitative","scale":{"domain":[-0.78481,0.78481],"nice":false,"zero":false},"axis":null},"y2":{"field":"yb"}}},
   {"data":{"name":"ring"},"mark":{"type":"arc","fillOpacity":0,"stroke":"#000","strokeWidth":1.6},"encoding":{"theta":{"field":"from","type":"quantitative"},"theta2":{"field":"to"},"radius":{"field":"r","type":"quantitative"}}},
   {"data":{"name":"hours"},"mark":{"type":"text","fontSize":12.5,"align":"center","baseline":"middle"},"encoding":{"x":{"field":"x","type":"quantitative"},"y":{"field":"y","type":"quantitative"},"text":{"field":"lab"}}},
   {"data":{"name":"pol"},"transform":[{"filter":"datum.k=='Clock'"}],"mark":{"type":"rule","strokeWidth":2},"encoding":{"x":{"field":"ex","type":"quantitative"},"y":{"field":"ey","type":"quantitative"},"x2":{"datum":0},"y2":{"datum":0},"color":{"field":"g","type":"nominal","scale":{"domain":["NR","ALR","DR","LR","txt"],"range":["#4a7fd6","#ff2020","#ef6a33","#8a8a12","#111111"]},"legend":null}}},
   {"data":{"name":"pol"},"transform":[{"filter":"datum.k=='Clock'"}],"mark":{"type":"point","shape":"triangle-up","filled":true,"size":55,"opacity":1},"encoding":{"x":{"field":"ex","type":"quantitative"},"y":{"field":"ey","type":"quantitative"},"angle":{"field":"h","type":"quantitative","scale":{"domain":[0,24],"range":[0,360]},"legend":null},"color":{"field":"g","type":"nominal","legend":null}}},
   {"data":{"name":"annB"},"transform":[{"filter":"datum.k=='Clock'"}],"mark":{"type":"text","fontSize":12.5},"encoding":{"x":{"field":"x","type":"quantitative"},"y":{"field":"y","type":"quantitative"},"text":{"field":"s"},"color":{"field":"g","type":"nominal","legend":null}}}
  ]},
  {"width":124,"height":124,"title":{"text":"Cry1","offset":16},"layer":[
   {"data":{"name":"dark"},"mark":{"type":"arc","color":"#e6e6e6"},"encoding":{"theta":{"field":"from","type":"quantitative","scale":{"type":"linear","domain":[0,24],"zero":false,"nice":false}},"theta2":{"field":"to"},"radius":{"field":"r","type":"quantitative","scale":{"type":"linear","domain":[0,1],"range":[0,79],"zero":true,"nice":false}}}},
   {"data":{"name":"pol"},"transform":[{"filter":"datum.k=='Cry1'"}],"mark":{"type":"arc","fillOpacity":0.55},"encoding":{"theta":{"field":"a1","type":"quantitative"},"theta2":{"field":"a2"},"radius":{"field":"r2","type":"quantitative"},"radius2":{"field":"r1"},"fill":{"field":"g","type":"nominal","scale":{"domain":["NR","ALR","DR","LR"],"range":["#9db7f5","#f3939c","#f5a23a","#f7f28c"]},"legend":null}}},
   {"data":{"name":"cross"},"mark":{"type":"rule","color":"#8c8c8c","strokeDash":[3,3],"strokeWidth":1},"encoding":{"x":{"field":"xa","type":"quantitative","scale":{"domain":[-0.78481,0.78481],"nice":false,"zero":false},"axis":null},"x2":{"field":"xb"},"y":{"field":"ya","type":"quantitative","scale":{"domain":[-0.78481,0.78481],"nice":false,"zero":false},"axis":null},"y2":{"field":"yb"}}},
   {"data":{"name":"ring"},"mark":{"type":"arc","fillOpacity":0,"stroke":"#000","strokeWidth":1.6},"encoding":{"theta":{"field":"from","type":"quantitative"},"theta2":{"field":"to"},"radius":{"field":"r","type":"quantitative"}}},
   {"data":{"name":"hours"},"mark":{"type":"text","fontSize":12.5,"align":"center","baseline":"middle"},"encoding":{"x":{"field":"x","type":"quantitative"},"y":{"field":"y","type":"quantitative"},"text":{"field":"lab"}}},
   {"data":{"name":"pol"},"transform":[{"filter":"datum.k=='Cry1'"}],"mark":{"type":"rule","strokeWidth":2},"encoding":{"x":{"field":"ex","type":"quantitative"},"y":{"field":"ey","type":"quantitative"},"x2":{"datum":0},"y2":{"datum":0},"color":{"field":"g","type":"nominal","scale":{"domain":["NR","ALR","DR","LR","txt"],"range":["#4a7fd6","#ff2020","#ef6a33","#8a8a12","#111111"]},"legend":null}}},
   {"data":{"name":"pol"},"transform":[{"filter":"datum.k=='Cry1'"}],"mark":{"type":"point","shape":"triangle-up","filled":true,"size":55,"opacity":1},"encoding":{"x":{"field":"ex","type":"quantitative"},"y":{"field":"ey","type":"quantitative"},"angle":{"field":"h","type":"quantitative","scale":{"domain":[0,24],"range":[0,360]},"legend":null},"color":{"field":"g","type":"nominal","legend":null}}}
  ]},
  {"width":124,"height":124,"title":{"text":"Per1","offset":7},"layer":[
   {"data":{"name":"dark"},"mark":{"type":"arc","color":"#e6e6e6"},"encoding":{"theta":{"field":"from","type":"quantitative","scale":{"type":"linear","domain":[0,24],"zero":false,"nice":false}},"theta2":{"field":"to"},"radius":{"field":"r","type":"quantitative","scale":{"type":"linear","domain":[0,1],"range":[0,79],"zero":true,"nice":false}}}},
   {"data":{"name":"pol"},"transform":[{"filter":"datum.k=='Per1'"}],"mark":{"type":"arc","fillOpacity":0.55},"encoding":{"theta":{"field":"a1","type":"quantitative"},"theta2":{"field":"a2"},"radius":{"field":"r2","type":"quantitative"},"radius2":{"field":"r1"},"fill":{"field":"g","type":"nominal","scale":{"domain":["NR","ALR","DR","LR"],"range":["#9db7f5","#f3939c","#f5a23a","#f7f28c"]},"legend":null}}},
   {"data":{"name":"cross"},"mark":{"type":"rule","color":"#8c8c8c","strokeDash":[3,3],"strokeWidth":1},"encoding":{"x":{"field":"xa","type":"quantitative","scale":{"domain":[-0.78481,0.78481],"nice":false,"zero":false},"axis":null},"x2":{"field":"xb"},"y":{"field":"ya","type":"quantitative","scale":{"domain":[-0.78481,0.78481],"nice":false,"zero":false},"axis":null},"y2":{"field":"yb"}}},
   {"data":{"name":"ring"},"mark":{"type":"arc","fillOpacity":0,"stroke":"#000","strokeWidth":1.6},"encoding":{"theta":{"field":"from","type":"quantitative"},"theta2":{"field":"to"},"radius":{"field":"r","type":"quantitative"}}},
   {"data":{"name":"hours"},"mark":{"type":"text","fontSize":12.5,"align":"center","baseline":"middle"},"encoding":{"x":{"field":"x","type":"quantitative"},"y":{"field":"y","type":"quantitative"},"text":{"field":"lab"}}},
   {"data":{"name":"pol"},"transform":[{"filter":"datum.k=='Per1'"}],"mark":{"type":"rule","strokeWidth":2},"encoding":{"x":{"field":"ex","type":"quantitative"},"y":{"field":"ey","type":"quantitative"},"x2":{"datum":0},"y2":{"datum":0},"color":{"field":"g","type":"nominal","scale":{"domain":["NR","ALR","DR","LR","txt"],"range":["#4a7fd6","#ff2020","#ef6a33","#8a8a12","#111111"]},"legend":null}}},
   {"data":{"name":"pol"},"transform":[{"filter":"datum.k=='Per1'"}],"mark":{"type":"point","shape":"triangle-up","filled":true,"size":55,"opacity":1},"encoding":{"x":{"field":"ex","type":"quantitative"},"y":{"field":"ey","type":"quantitative"},"angle":{"field":"h","type":"quantitative","scale":{"domain":[0,24],"range":[0,360]},"legend":null},"color":{"field":"g","type":"nominal","legend":null}}},
   {"data":{"name":"annB"},"transform":[{"filter":"datum.k=='Per1'"}],"mark":{"type":"text","fontSize":12.5},"encoding":{"x":{"field":"x","type":"quantitative"},"y":{"field":"y","type":"quantitative"},"text":{"field":"s"},"color":{"field":"g","type":"nominal","legend":null}}}
  ]}
 ]},
 {"bounds":"flush","spacing":74,"hconcat":[
  {"width":124,"height":124,"title":{"text":"Per2","offset":16},"layer":[
   {"data":{"name":"dark"},"mark":{"type":"arc","color":"#e6e6e6"},"encoding":{"theta":{"field":"from","type":"quantitative","scale":{"type":"linear","domain":[0,24],"zero":false,"nice":false}},"theta2":{"field":"to"},"radius":{"field":"r","type":"quantitative","scale":{"type":"linear","domain":[0,1],"range":[0,79],"zero":true,"nice":false}}}},
   {"data":{"name":"pol"},"transform":[{"filter":"datum.k=='Per2'"}],"mark":{"type":"arc","fillOpacity":0.55},"encoding":{"theta":{"field":"a1","type":"quantitative"},"theta2":{"field":"a2"},"radius":{"field":"r2","type":"quantitative"},"radius2":{"field":"r1"},"fill":{"field":"g","type":"nominal","scale":{"domain":["NR","ALR","DR","LR"],"range":["#9db7f5","#f3939c","#f5a23a","#f7f28c"]},"legend":null}}},
   {"data":{"name":"cross"},"mark":{"type":"rule","color":"#8c8c8c","strokeDash":[3,3],"strokeWidth":1},"encoding":{"x":{"field":"xa","type":"quantitative","scale":{"domain":[-0.78481,0.78481],"nice":false,"zero":false},"axis":null},"x2":{"field":"xb"},"y":{"field":"ya","type":"quantitative","scale":{"domain":[-0.78481,0.78481],"nice":false,"zero":false},"axis":null},"y2":{"field":"yb"}}},
   {"data":{"name":"ring"},"mark":{"type":"arc","fillOpacity":0,"stroke":"#000","strokeWidth":1.6},"encoding":{"theta":{"field":"from","type":"quantitative"},"theta2":{"field":"to"},"radius":{"field":"r","type":"quantitative"}}},
   {"data":{"name":"hours"},"mark":{"type":"text","fontSize":12.5,"align":"center","baseline":"middle"},"encoding":{"x":{"field":"x","type":"quantitative"},"y":{"field":"y","type":"quantitative"},"text":{"field":"lab"}}},
   {"data":{"name":"pol"},"transform":[{"filter":"datum.k=='Per2'"}],"mark":{"type":"rule","strokeWidth":2},"encoding":{"x":{"field":"ex","type":"quantitative"},"y":{"field":"ey","type":"quantitative"},"x2":{"datum":0},"y2":{"datum":0},"color":{"field":"g","type":"nominal","scale":{"domain":["NR","ALR","DR","LR","txt"],"range":["#4a7fd6","#ff2020","#ef6a33","#8a8a12","#111111"]},"legend":null}}},
   {"data":{"name":"pol"},"transform":[{"filter":"datum.k=='Per2'"}],"mark":{"type":"point","shape":"triangle-up","filled":true,"size":55,"opacity":1},"encoding":{"x":{"field":"ex","type":"quantitative"},"y":{"field":"ey","type":"quantitative"},"angle":{"field":"h","type":"quantitative","scale":{"domain":[0,24],"range":[0,360]},"legend":null},"color":{"field":"g","type":"nominal","legend":null}}}
  ]},
  {"width":124,"height":124,"title":{"text":"Dbp","offset":11},"layer":[
   {"data":{"name":"dark"},"mark":{"type":"arc","color":"#e6e6e6"},"encoding":{"theta":{"field":"from","type":"quantitative","scale":{"type":"linear","domain":[0,24],"zero":false,"nice":false}},"theta2":{"field":"to"},"radius":{"field":"r","type":"quantitative","scale":{"type":"linear","domain":[0,1],"range":[0,79],"zero":true,"nice":false}}}},
   {"data":{"name":"pol"},"transform":[{"filter":"datum.k=='Dbp'"}],"mark":{"type":"arc","fillOpacity":0.55},"encoding":{"theta":{"field":"a1","type":"quantitative"},"theta2":{"field":"a2"},"radius":{"field":"r2","type":"quantitative"},"radius2":{"field":"r1"},"fill":{"field":"g","type":"nominal","scale":{"domain":["NR","ALR","DR","LR"],"range":["#9db7f5","#f3939c","#f5a23a","#f7f28c"]},"legend":null}}},
   {"data":{"name":"cross"},"mark":{"type":"rule","color":"#8c8c8c","strokeDash":[3,3],"strokeWidth":1},"encoding":{"x":{"field":"xa","type":"quantitative","scale":{"domain":[-0.78481,0.78481],"nice":false,"zero":false},"axis":null},"x2":{"field":"xb"},"y":{"field":"ya","type":"quantitative","scale":{"domain":[-0.78481,0.78481],"nice":false,"zero":false},"axis":null},"y2":{"field":"yb"}}},
   {"data":{"name":"ring"},"mark":{"type":"arc","fillOpacity":0,"stroke":"#000","strokeWidth":1.6},"encoding":{"theta":{"field":"from","type":"quantitative"},"theta2":{"field":"to"},"radius":{"field":"r","type":"quantitative"}}},
   {"data":{"name":"hours"},"mark":{"type":"text","fontSize":12.5,"align":"center","baseline":"middle"},"encoding":{"x":{"field":"x","type":"quantitative"},"y":{"field":"y","type":"quantitative"},"text":{"field":"lab"}}},
   {"data":{"name":"pol"},"transform":[{"filter":"datum.k=='Dbp'"}],"mark":{"type":"rule","strokeWidth":2},"encoding":{"x":{"field":"ex","type":"quantitative"},"y":{"field":"ey","type":"quantitative"},"x2":{"datum":0},"y2":{"datum":0},"color":{"field":"g","type":"nominal","scale":{"domain":["NR","ALR","DR","LR","txt"],"range":["#4a7fd6","#ff2020","#ef6a33","#8a8a12","#111111"]},"legend":null}}},
   {"data":{"name":"pol"},"transform":[{"filter":"datum.k=='Dbp'"}],"mark":{"type":"point","shape":"triangle-up","filled":true,"size":55,"opacity":1},"encoding":{"x":{"field":"ex","type":"quantitative"},"y":{"field":"ey","type":"quantitative"},"angle":{"field":"h","type":"quantitative","scale":{"domain":[0,24],"range":[0,360]},"legend":null},"color":{"field":"g","type":"nominal","legend":null}}},
   {"data":{"name":"annB"},"transform":[{"filter":"datum.k=='Dbp'"}],"mark":{"type":"text","fontSize":12.5},"encoding":{"x":{"field":"x","type":"quantitative"},"y":{"field":"y","type":"quantitative"},"text":{"field":"s"},"color":{"field":"g","type":"nominal","legend":null}}}
  ]},
  {"width":124,"height":124,"title":{"text":"Reverba","offset":16},"layer":[
   {"data":{"name":"dark"},"mark":{"type":"arc","color":"#e6e6e6"},"encoding":{"theta":{"field":"from","type":"quantitative","scale":{"type":"linear","domain":[0,24],"zero":false,"nice":false}},"theta2":{"field":"to"},"radius":{"field":"r","type":"quantitative","scale":{"type":"linear","domain":[0,1],"range":[0,79],"zero":true,"nice":false}}}},
   {"data":{"name":"pol"},"transform":[{"filter":"datum.k=='Reverba'"}],"mark":{"type":"arc","fillOpacity":0.55},"encoding":{"theta":{"field":"a1","type":"quantitative"},"theta2":{"field":"a2"},"radius":{"field":"r2","type":"quantitative"},"radius2":{"field":"r1"},"fill":{"field":"g","type":"nominal","scale":{"domain":["NR","ALR","DR","LR"],"range":["#9db7f5","#f3939c","#f5a23a","#f7f28c"]},"legend":null}}},
   {"data":{"name":"cross"},"mark":{"type":"rule","color":"#8c8c8c","strokeDash":[3,3],"strokeWidth":1},"encoding":{"x":{"field":"xa","type":"quantitative","scale":{"domain":[-0.78481,0.78481],"nice":false,"zero":false},"axis":null},"x2":{"field":"xb"},"y":{"field":"ya","type":"quantitative","scale":{"domain":[-0.78481,0.78481],"nice":false,"zero":false},"axis":null},"y2":{"field":"yb"}}},
   {"data":{"name":"ring"},"mark":{"type":"arc","fillOpacity":0,"stroke":"#000","strokeWidth":1.6},"encoding":{"theta":{"field":"from","type":"quantitative"},"theta2":{"field":"to"},"radius":{"field":"r","type":"quantitative"}}},
   {"data":{"name":"hours"},"mark":{"type":"text","fontSize":12.5,"align":"center","baseline":"middle"},"encoding":{"x":{"field":"x","type":"quantitative"},"y":{"field":"y","type":"quantitative"},"text":{"field":"lab"}}},
   {"data":{"name":"pol"},"transform":[{"filter":"datum.k=='Reverba'"}],"mark":{"type":"rule","strokeWidth":2},"encoding":{"x":{"field":"ex","type":"quantitative"},"y":{"field":"ey","type":"quantitative"},"x2":{"datum":0},"y2":{"datum":0},"color":{"field":"g","type":"nominal","scale":{"domain":["NR","ALR","DR","LR","txt"],"range":["#4a7fd6","#ff2020","#ef6a33","#8a8a12","#111111"]},"legend":null}}},
   {"data":{"name":"pol"},"transform":[{"filter":"datum.k=='Reverba'"}],"mark":{"type":"point","shape":"triangle-up","filled":true,"size":55,"opacity":1},"encoding":{"x":{"field":"ex","type":"quantitative"},"y":{"field":"ey","type":"quantitative"},"angle":{"field":"h","type":"quantitative","scale":{"domain":[0,24],"range":[0,360]},"legend":null},"color":{"field":"g","type":"nominal","legend":null}}}
  ]},
  {"width":160,"height":124,"layer":[
   {"data":{"name":"legB"},"mark":{"type":"tick","orient":"horizontal","size":13,"thickness":2.2},"encoding":{"x":{"datum":-1.06,"type":"quantitative","scale":{"domain":[0,9.412],"nice":false,"zero":false},"axis":null},"y":{"field":"p","type":"quantitative","scale":{"domain":[0,6.526],"reverse":true,"nice":false,"zero":false},"axis":null},"color":{"field":"g","type":"nominal","scale":{"domain":["NR","ALR","DR","LR","txt"],"range":["#4a7fd6","#ff2020","#ef6a33","#8a8a12","#111111"]},"legend":null}}},
   {"data":{"name":"legB"},"mark":{"type":"point","shape":"triangle-up","filled":true,"size":60,"opacity":1,"angle":90},"encoding":{"x":{"datum":-0.59,"type":"quantitative"},"y":{"field":"p","type":"quantitative"},"color":{"field":"g","type":"nominal","legend":null}}},
   {"data":{"name":"legB"},"mark":{"type":"text","align":"left","baseline":"middle","fontSize":12.2},"encoding":{"x":{"datum":0.06,"type":"quantitative"},"y":{"field":"p","type":"quantitative"},"text":{"field":"lab"}}},
   {"data":{"name":"noteB"},"mark":{"type":"text","align":"left","baseline":"middle","fontSize":12.2},"encoding":{"x":{"datum":-0.94,"type":"quantitative"},"y":{"field":"p","type":"quantitative"},"text":{"field":"lab"}}}
  ]}
 ]}
 ]}
]
}
